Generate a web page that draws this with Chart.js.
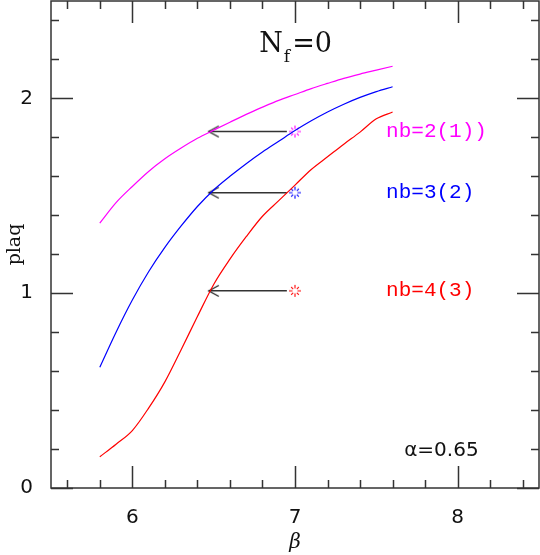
<!DOCTYPE html>
<html>
<head>
<meta charset="utf-8">
<script src="https://cdn.jsdelivr.net/npm/chart.js@4.4.1/dist/chart.umd.min.js"></script>
<style>
  html, body { margin: 0; padding: 0; background: #fff; }
</style>
</head>
<body>
<canvas id="myChart" width="540" height="555"></canvas>
<script>
// beta values and plaquette curves
const betaValues = [5.8, 5.9, 6.0, 6.1, 6.2, 6.3, 6.4, 6.5, 6.6, 6.7, 6.8, 6.9, 7.0, 7.1, 7.2, 7.3, 7.4, 7.5, 7.6];
const plaqNb2 = [1.36, 1.465, 1.548, 1.625, 1.69, 1.745, 1.795, 1.837, 1.878, 1.918, 1.955, 1.99, 2.02, 2.05, 2.077, 2.103, 2.125, 2.145, 2.165];
const plaqNb3 = [0.62, 0.80, 0.965, 1.11, 1.235, 1.345, 1.445, 1.53, 1.60, 1.665, 1.725, 1.78, 1.835, 1.885, 1.93, 1.97, 2.005, 2.035, 2.06];
const plaqNb4 = [0.16, 0.225, 0.295, 0.41, 0.545, 0.71, 0.88, 1.045, 1.175, 1.29, 1.395, 1.475, 1.555, 1.635, 1.70, 1.765, 1.827, 1.895, 1.93];

const seriesLabels = ['nb=2(1))', 'nb=3(2)', 'nb=4(3)'];
const seriesColors = ['#ff00ff', '#0000ff', '#ff0000'];
const arrowLevels = [1.83, 1.516, 1.012];
const arrowTip = 6.47;
const arrowTail = 6.95;
const markerBeta = 7.0;

// tick positions (every 0.2, labels on integers)
const xTickValues = [5.6, 5.8, 6.0, 6.2, 6.4, 6.6, 6.8, 7.0, 7.2, 7.4, 7.6, 7.8, 8.0, 8.2, 8.4];
const yTickValues = [0, 0.2, 0.4, 0.6, 0.8, 1.0, 1.2, 1.4, 1.6, 1.8, 2.0, 2.2, 2.4];

// little open chevron for the arrow heads
function makeChevron() {
  const c = document.createElement('canvas');
  c.width = 24; c.height = 14;
  const g = c.getContext('2d');
  g.strokeStyle = '#222';
  g.lineWidth = 1.3;
  g.beginPath();
  g.moveTo(22, 1.5); g.lineTo(12, 7); g.lineTo(22, 12.5);
  g.stroke();
  return c;
}

// burst-like marker (lines radiating, empty centre)
function makeBurst(color) {
  const c = document.createElement('canvas');
  c.width = 14; c.height = 14;
  const g = c.getContext('2d');
  g.strokeStyle = color;
  g.lineWidth = 1.1;
  g.beginPath();
  for (let i = 0; i < 8; i++) {
    const a = i * Math.PI / 4;
    const r1 = 2.5, r2 = (i % 2 === 0) ? 6 : 5.5;
    g.moveTo(7 + r1 * Math.cos(a), 7 + r1 * Math.sin(a));
    g.lineTo(7 + r2 * Math.cos(a), 7 + r2 * Math.sin(a));
  }
  g.stroke();
  return c;
}

const chevron = makeChevron();

const curveSets = [plaqNb2, plaqNb3, plaqNb4].map((vals, i) => ({
  type: 'line',
  data: betaValues.map((b, j) => ({ x: b, y: vals[j] })),
  borderColor: seriesColors[i],
  borderWidth: 1.2,
  pointRadius: 0,
  cubicInterpolationMode: 'monotone'
}));

const arrowSets = arrowLevels.map(lv => ({
  type: 'line',
  data: [{ x: arrowTip, y: lv }, { x: arrowTail, y: lv }],
  borderColor: '#333',
  borderWidth: 1.5,
  pointRadius: [3, 0],
  pointStyle: chevron,
  tension: 0
}));

const markerSet = {
  type: 'scatter',
  data: arrowLevels.map(lv => ({ x: markerBeta, y: lv })),
  pointStyle: seriesColors.map(c => makeBurst(c)),
  pointRadius: 3
};

const isInt = v => Math.abs(v - Math.round(v)) < 1e-6;
const noPad = s => { s.paddingTop = 0; s.paddingBottom = 0; s.paddingLeft = 0; s.paddingRight = 0; };

const frameTicks = {
  id: 'frameTicks',
  afterDatasetsDraw(chart) {
    const { ctx, chartArea: a, scales: { x, y } } = chart;
    ctx.save();
    ctx.strokeStyle = '#333';
    ctx.lineWidth = 1.5;
    ctx.strokeRect(a.left, a.top, a.right - a.left, a.bottom - a.top);
    ctx.beginPath();
    x.ticks.forEach(t => {
      const len = isInt(t.value) ? 22 : 8;
      const px = Math.round(x.getPixelForValue(t.value)) + 0.5;
      ctx.moveTo(px, a.bottom); ctx.lineTo(px, a.bottom - len);
      ctx.moveTo(px, a.top); ctx.lineTo(px, a.top + len);
    });
    y.ticks.forEach(t => {
      const len = isInt(t.value) ? 22 : 8;
      const py = Math.round(y.getPixelForValue(t.value)) + 0.5;
      ctx.moveTo(a.left, py); ctx.lineTo(a.left + len, py);
      ctx.moveTo(a.right, py); ctx.lineTo(a.right - len, py);
    });
    ctx.stroke();

    // labels
    ctx.textBaseline = 'middle';
    ctx.textAlign = 'left';
    ctx.font = '21px "Liberation Mono", monospace';
    seriesLabels.forEach((s, i) => {
      ctx.fillStyle = seriesColors[i];
      ctx.fillText(s, x.getPixelForValue(7.56), y.getPixelForValue(arrowLevels[i]));
    });

    ctx.fillStyle = '#111';
    ctx.font = '27px "DejaVu Serif", serif';
    const nx = x.getPixelForValue(6.78), ny = y.getPixelForValue(2.272);
    ctx.fillText('N', nx, ny);
    const nw = ctx.measureText('N').width;
    ctx.font = '17px "DejaVu Serif", serif';
    ctx.fillText('f', nx + nw + 1, ny + 12);
    const fw = ctx.measureText('f').width;
    ctx.font = '27px "DejaVu Serif", serif';
    ctx.fillText('=0', nx + nw + fw + 3, ny);

    ctx.font = '20px "DejaVu Sans", sans-serif';
    ctx.textAlign = 'center';
    ctx.fillText('\u03b1=0.65', x.getPixelForValue(7.9), y.getPixelForValue(0.19));
    ctx.restore();
  }
};

new Chart(document.getElementById('myChart'), {
  data: { datasets: [...curveSets, ...arrowSets, markerSet] },
  options: {
    responsive: false,
    animation: false,
    layout: { autoPadding: false, padding: { top: 1, right: 1, left: 0, bottom: 0 } },
    plugins: { legend: { display: false }, tooltip: { enabled: false } },
    scales: {
      x: {
        type: 'linear',
        min: 5.5, max: 8.5,
        grid: { display: false },
        border: { display: false },
        afterBuildTicks: s => { s.ticks = xTickValues.map(v => ({ value: v })); },
        ticks: {
          autoSkip: false, maxRotation: 0, padding: 10,
          color: '#111', font: { family: 'DejaVu Sans', size: 20 },
          callback: v => isInt(v) ? String(Math.round(v)) : ''
        },
        title: {
          display: true, text: '\u03b2', color: '#111',
          font: { family: 'DejaVu Serif', size: 20, style: 'italic' },
          padding: { top: 0, bottom: 0 }
        },
        afterFit: s => { s.height = 67; noPad(s); }
      },
      y: {
        type: 'linear',
        min: 0, max: 2.5,
        grid: { display: false },
        border: { display: false },
        afterBuildTicks: s => { s.ticks = yTickValues.map(v => ({ value: v })); },
        ticks: {
          autoSkip: false, padding: 10,
          color: '#111', font: { family: 'DejaVu Sans', size: 20 },
          callback: v => isInt(v) ? String(Math.round(v)) : ''
        },
        title: {
          display: true, text: 'plaq', color: '#111',
          font: { family: 'DejaVu Serif', size: 19 },
          padding: { top: 4, bottom: 0 }
        },
        afterFit: s => { s.width = 51; noPad(s); }
      }
    }
  },
  plugins: [frameTicks]
});
</script>
</body>
</html>
